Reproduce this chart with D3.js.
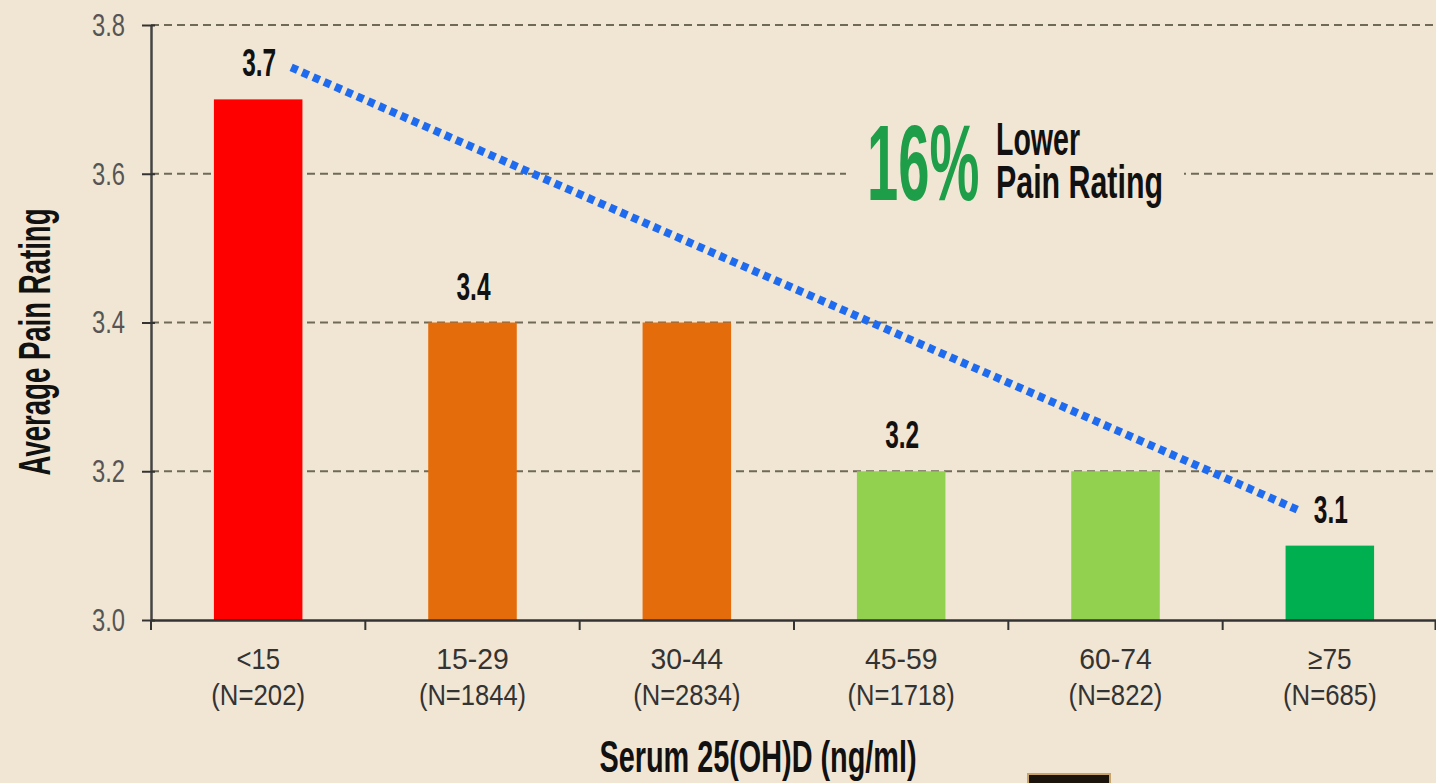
<!DOCTYPE html>
<html>
<head>
<meta charset="utf-8">
<script src="https://cdn.jsdelivr.net/npm/d3@7/dist/d3.min.js"></script>
<style>
  html, body { margin: 0; padding: 0; background: #F1E6D3; }
  svg { display: block; }
</style>
</head>
<body>
<svg id="chart" width="1436" height="783"></svg>
<script>
// ---- data ----
const categories = ["<15", "15-29", "30-44", "45-59", "60-74", "≥75"];
const sampleSizes = ["(N=202)", "(N=1844)", "(N=2834)", "(N=1718)", "(N=822)", "(N=685)"];
const painRatings = [3.7, 3.4, 3.4, 3.2, 3.2, 3.1];
const valueLabels = ["3.7", "3.4", "", "3.2", "", "3.1"];
const yTicks = [3.0, 3.2, 3.4, 3.6, 3.8];
const trendCategories = ["<15", "≥75"];
const trendValues = [3.743, 3.148];
const yAxisTitle = "Average Pain Rating";
const xAxisTitle = "Serum 25(OH)D (ng/ml)";
const annotationBig = "16%";
const annotationLines = ["Lower", "Pain Rating"];

// ---- styles ----
const bg = "#F1E6D3";
const barColors = ["#FF0000", "#E46C0A", "#E46C0A", "#92D050", "#92D050", "#00B050"];
const narrow = "'Liberation Sans Narrow', 'Arial Narrow', sans-serif";

const svg = d3.select("#chart");
const W = 1436, H = 783;
const mLeft = 151, mRight = 1437, mTop = 25, mBottom = 620;

svg.append("rect").attr("width", W).attr("height", H).attr("fill", bg);

const x = d3.scaleBand().domain(categories).range([mLeft, mRight]).padding(0);
const y = d3.scaleLinear().domain([3.0, 3.8]).range([mBottom, mTop]);
const color = d3.scaleOrdinal().domain(categories).range(barColors);
const barFrac = 0.413;
const bw = x.bandwidth() * barFrac;

// gridlines
svg.append("g").selectAll("line")
  .data(yTicks.filter(t => t > 3.0))
  .join("line")
  .attr("x1", mLeft).attr("x2", W)
  .attr("y1", d => y(d)).attr("y2", d => y(d))
  .attr("stroke", "#6f6a58").attr("stroke-width", 2.2)
  .attr("stroke-dasharray", "8,5");

// bars
const data = categories.map((c, i) => ({ c, v: painRatings[i], label: valueLabels[i], n: sampleSizes[i] }));
svg.append("g").selectAll("rect")
  .data(data)
  .join("rect")
  .attr("x", d => x(d.c) + (x.bandwidth() - bw) / 2)
  .attr("width", bw)
  .attr("y", d => y(d.v))
  .attr("height", d => y(3.0) - y(d.v))
  .attr("fill", d => color(d.c));

// value labels
svg.append("g").selectAll("text")
  .data(data.filter(d => d.label))
  .join("text")
  .attr("x", d => x(d.c) + x.bandwidth() / 2 + 1)
  .attr("y", d => y(d.v) - 23)
  .attr("text-anchor", "middle")
  .attr("font-family", narrow).attr("font-weight", "bold")
  .attr("font-size", 38).attr("fill", "#111")
  .attr("textLength", 34).attr("lengthAdjust", "spacingAndGlyphs")
  .text(d => d.label);

// trend line
const trendPts = trendCategories.map((c, i) => [
  x(c) + x.bandwidth() / 2 + (i === 0 ? 33 : -32), y(trendValues[i])
]);
svg.append("path")
  .attr("d", d3.line()(trendPts))
  .attr("stroke", "#1F6BEF").attr("stroke-width", 8)
  .attr("stroke-dasharray", "7,5").attr("fill", "none");

// annotation background (breaks gridline)
svg.append("rect")
  .attr("x", 846).attr("y", y(3.6) - 10).attr("width", 338).attr("height", 20)
  .attr("fill", bg);

svg.append("text")
  .attr("transform", "translate(867,200) scale(0.52,1)")
  .attr("font-family", narrow).attr("font-weight", "bold")
  .attr("font-size", 108).attr("fill", "#1E9E48")
  .text(annotationBig);
svg.append("text")
  .attr("x", 996).attr("y", 155)
  .attr("font-family", narrow).attr("font-weight", "bold")
  .attr("font-size", 46).attr("fill", "#111")
  .attr("textLength", 84).attr("lengthAdjust", "spacingAndGlyphs")
  .text(annotationLines[0]);
svg.append("text")
  .attr("x", 996).attr("y", 198)
  .attr("font-family", narrow).attr("font-weight", "bold")
  .attr("font-size", 46).attr("fill", "#111")
  .attr("textLength", 167).attr("lengthAdjust", "spacingAndGlyphs")
  .text(annotationLines[1]);

// y axis
const yAxis = svg.append("g")
  .attr("transform", `translate(${mLeft},0)`)
  .call(d3.axisLeft(y).tickValues(yTicks).tickFormat(d3.format(".1f"))
    .tickSize(9).tickSizeOuter(0).tickPadding(17));
yAxis.select(".domain").attr("stroke", "#444").attr("stroke-width", 2.5);
yAxis.selectAll(".tick line").attr("stroke", "#333").attr("stroke-width", 2)
  .attr("x2", -9).attr("x1", 4);
yAxis.selectAll(".tick text")
  .attr("font-family", narrow).attr("font-size", 32).attr("fill", "#555")
  .attr("textLength", 33).attr("lengthAdjust", "spacingAndGlyphs");

// x axis
const xAxis = svg.append("g")
  .attr("transform", `translate(0,${mBottom})`)
  .call(d3.axisBottom(x).tickSize(0).tickSizeOuter(0).tickFormat(() => ""));
xAxis.select(".domain").attr("stroke", "#333").attr("stroke-width", 2.5);
const boundaries = categories.map(c => x(c)).concat([x(categories[categories.length - 1]) + x.bandwidth() - 1.5]);
xAxis.append("g").selectAll("line")
  .data(boundaries)
  .join("line")
  .attr("x1", d => d).attr("x2", d => d)
  .attr("y1", 0).attr("y2", 10)
  .attr("stroke", "#333").attr("stroke-width", 2);

// category labels
const catG = svg.append("g").selectAll("g")
  .data(data).join("g")
  .attr("transform", d => `translate(${x(d.c) + x.bandwidth() / 2},0)`);
catG.append("text")
  .attr("y", 669).attr("text-anchor", "middle")
  .attr("font-family", narrow).attr("font-size", 30).attr("fill", "#333")
  .attr("textLength", d => d.c.length * 14.5).attr("lengthAdjust", "spacingAndGlyphs")
  .text(d => d.c);
catG.append("text")
  .attr("y", 705).attr("text-anchor", "middle")
  .attr("font-family", narrow).attr("font-size", 30).attr("fill", "#333")
  .attr("textLength", d => d.n.length * 13.4).attr("lengthAdjust", "spacingAndGlyphs")
  .text(d => d.n);

// axis titles
svg.append("text")
  .attr("transform", "translate(50,342) rotate(-90)")
  .attr("text-anchor", "middle")
  .attr("font-family", narrow).attr("font-weight", "bold")
  .attr("font-size", 44).attr("fill", "#111")
  .attr("textLength", 267).attr("lengthAdjust", "spacingAndGlyphs")
  .text(yAxisTitle);
svg.append("text")
  .attr("x", 758).attr("y", 772)
  .attr("text-anchor", "middle")
  .attr("font-family", narrow).attr("font-weight", "bold")
  .attr("font-size", 44).attr("fill", "#111")
  .attr("textLength", 317).attr("lengthAdjust", "spacingAndGlyphs")
  .text(xAxisTitle);

// logo fragment at bottom edge
svg.append("rect")
  .attr("x", 1028).attr("y", 774).attr("width", 82).attr("height", 12)
  .attr("fill", "#1b140c").attr("stroke", "#c9a46a").attr("stroke-width", 2);
</script>
</body>
</html>
